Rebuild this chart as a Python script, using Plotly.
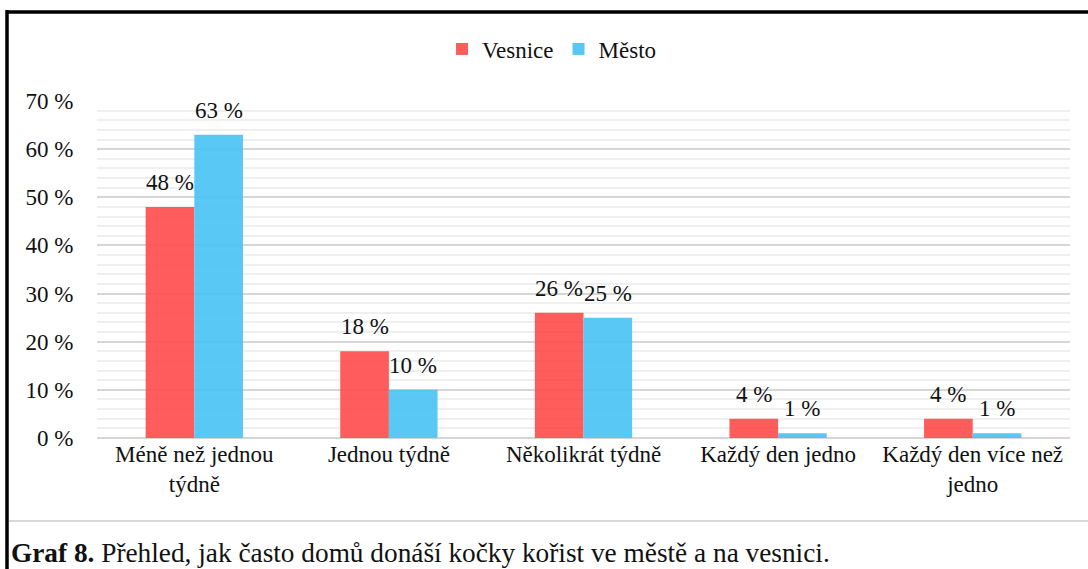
import plotly.graph_objects as go

categories = ["Méně než jednou<br>týdně", "Jednou týdně", "Několikrát týdně",
              "Každý den jedno", "Každý den více než<br>jedno"]
vesnice = [48, 18, 26, 4, 4]
mesto = [63, 10, 25, 1, 1]
y_ticks = [0, 10, 20, 30, 40, 50, 60, 70]
y_tick_labels = [f"{v} %" for v in y_ticks]

W, H = 1088, 569
L, R, T, B = 97, 18, 101, 131
pw, ph = W - L - R, H - T - B

def px(x):
    return (x - L) / pw

def py(y):
    return (H - B - y) / ph

FONT = "Liberation Serif, Times New Roman, serif"
FS = 23
bar_px = pw / len(categories) / 8  # offset of each bar centre from group centre (bargap 0.5)

fig = go.Figure()
fig.add_trace(go.Bar(
    name="Vesnice", x=categories, y=vesnice,
    marker=dict(color="#FF4F4F", line=dict(width=0)), opacity=0.92,
))
fig.add_trace(go.Bar(
    name="Město", x=categories, y=mesto,
    marker=dict(color="#4CC3F4", line=dict(width=0)), opacity=0.92,
))

annotations = []
for series, shift in ((vesnice, -bar_px), (mesto, bar_px)):
    for c, v in zip(categories, series):
        annotations.append(dict(
            x=c, y=v, xref="x", yref="y", text=f"{v} %", showarrow=False,
            xshift=shift, yshift=10, yanchor="bottom",
            font=dict(size=FS, family=FONT, color="#111"),
        ))
annotations.append(dict(
    xref="paper", yref="paper", x=px(9), y=py(553), xanchor="left", yanchor="middle",
    text="<b>Graf 8.</b> Přehled, jak často domů donáší kočky kořist ve městě a na vesnici.",
    showarrow=False, font=dict(size=27.3, family=FONT, color="#111"),
))

shapes = [
    dict(type="line", xref="paper", yref="paper", x0=px(6), x1=px(1090), y0=py(12), y1=py(12),
         line=dict(color="black", width=3.5)),
    dict(type="line", xref="paper", yref="paper", x0=px(7), x1=px(7), y0=py(10), y1=py(575),
         line=dict(color="black", width=3.5)),
    dict(type="line", xref="paper", yref="paper", x0=px(9), x1=px(1090), y0=py(521), y1=py(521),
         line=dict(color="#d9d9d9", width=2)),
]

fig.update_layout(
    width=W, height=H, autosize=False,
    margin=dict(l=L, r=R, t=T, b=B, autoexpand=False),
    paper_bgcolor="white", plot_bgcolor="white",
    font=dict(family=FONT, size=FS, color="#111"),
    barmode="group", bargap=0.5, bargroupgap=0,
    showlegend=True,
    legend=dict(orientation="h", x=px(552), xanchor="center",
                y=py(49), yanchor="middle", font=dict(size=FS),
                traceorder="normal", itemclick=False),
    shapes=shapes,
    annotations=annotations,
)
fig.update_xaxes(showline=False, ticks="", tickfont=dict(size=FS), tickangle=0, automargin=False)
fig.update_yaxes(range=[0, 70], tickvals=y_ticks, ticktext=y_tick_labels,
                 showgrid=True, gridcolor="#d6d6d6", gridwidth=1.5,
                 zeroline=True, zerolinecolor="#d6d6d6", zerolinewidth=1.5,
                 minor=dict(dtick=2, showgrid=True, gridcolor="#efefef", gridwidth=1.5),
                 tickfont=dict(size=FS), ticks="outside", ticklen=18, tickcolor="rgba(0,0,0,0)",
                 automargin=False)

fig.write_html("out.html", config={"displayModeBar": False},
               post_script="document.body.style.margin='0px';")
